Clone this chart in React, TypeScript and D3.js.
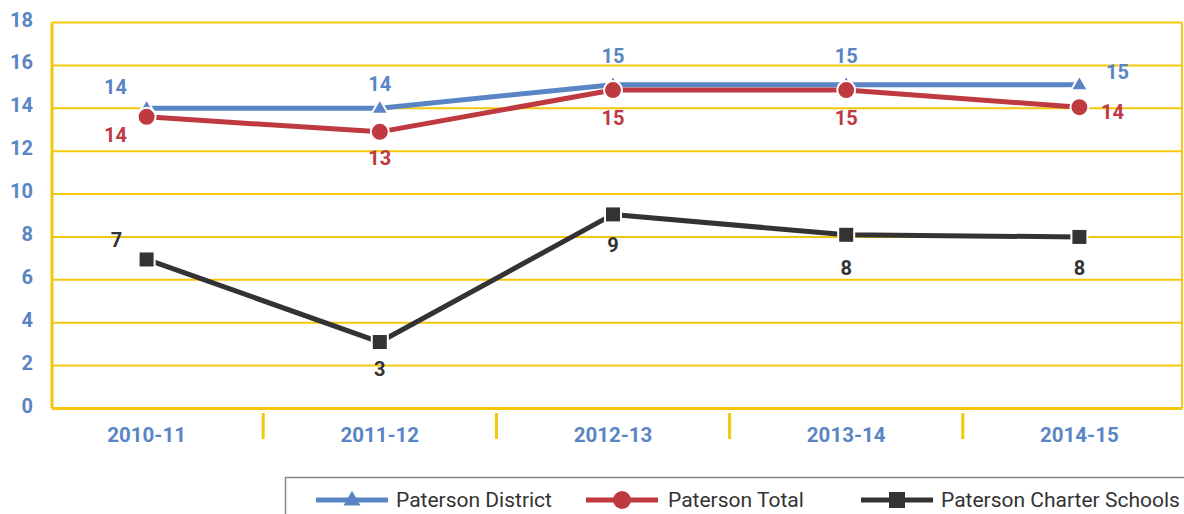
import React from "react";
import * as d3 from "d3";

const categories = ["2010-11", "2011-12", "2012-13", "2013-14", "2014-15"];
const districtValues = [14.0, 14.0, 15.1, 15.1, 15.1];
const totalValues = [13.6, 12.9, 14.85, 14.85, 14.05];
const charterValues = [6.95, 3.1, 9.05, 8.1, 8.0];
const yTicks = [0, 2, 4, 6, 8, 10, 12, 14, 16, 18];
const seriesNames = ["Paterson District", "Paterson Total", "Paterson Charter Schools"];

// label offsets (dx, dy) relative to point
const districtLabelOffsets = [[-31, -21], [0, -24], [0, -29], [0, -29], [38, -13]];
const totalLabelOffsets = [[-31, 18], [0, 26], [0, 28], [0, 28], [33, 5]];
const charterLabelOffsets = [[-30, -19], [0, 27], [0, 31], [0, 33], [0, 31]];

const W = 1184, H = 514;
const BLUE = "#5a85c4";
const RED = "#be3a40";
const DARK = "#333333";
const GOLD = "#f5c70a";
const FONT = "Roboto, 'DejaVu Sans', sans-serif";

export default function App() {
  const x = d3.scaleBand<string>().domain(categories).range([30, 1196]);
  const cx = (c: string) => (x(c) as number) + x.bandwidth() / 2;
  const y = d3.scaleLinear().domain([0, 18]).range([408.5, 22.5]);
  const left = 52, right = 1182;
  const line = d3.line<number>().x((_, i) => cx(categories[i])).y((v) => y(v));
  const fmt = d3.format(".0f");

  const series = [
    { name: seriesNames[0], values: districtValues, color: BLUE, marker: "tri", offs: districtLabelOffsets },
    { name: seriesNames[1], values: totalValues, color: RED, marker: "circ", offs: totalLabelOffsets },
    { name: seriesNames[2], values: charterValues, color: DARK, marker: "sq", offs: charterLabelOffsets },
  ];

  const marker = (kind: string, px: number, py: number, color: string, key: string, halo = true) => {
    const sw = halo ? 2 : 0;
    if (kind === "tri") {
      const s = 17;
      const h = s * 0.866;
      return (
        <path key={key} d={`M${px},${py - h * 0.62}L${px + s / 2},${py + h * 0.38}L${px - s / 2},${py + h * 0.38}Z`}
          fill={color} stroke="#fff" strokeWidth={sw} />
      );
    }
    if (kind === "circ") {
      return <circle key={key} cx={px} cy={py} r={9} fill={color} stroke="#fff" strokeWidth={sw} />;
    }
    return <rect key={key} x={px - 8} y={py - 8} width={16} height={16} fill={color} stroke="#fff" strokeWidth={sw} />;
  };

  const legendItems = [
    { x0: 316, tx: 396 },
    { x0: 586, tx: 668 },
    { x0: 861, tx: 941 },
  ];

  return (
    <svg width={W} height={H} style={{ position: "absolute", left: 0, top: 0, background: "#fff" }}>
      {/* gridlines */}
      {yTicks.map((t) => (
        <line key={"g" + t} x1={left} x2={right} y1={y(t)} y2={y(t)} stroke={GOLD} strokeWidth={t === 0 ? 3 : 2} />
      ))}
      <line x1={left} x2={left} y1={y(18)} y2={y(0)} stroke={GOLD} strokeWidth={3} />
      <line x1={right} x2={right} y1={y(18)} y2={y(0)} stroke={GOLD} strokeWidth={2} />
      {/* x separators */}
      {categories.slice(1).map((c) => (
        <line key={"s" + c} x1={x(c)} x2={x(c)} y1={413} y2={439} stroke={GOLD} strokeWidth={3} />
      ))}
      {/* y labels */}
      {yTicks.map((t) => (
        <text key={"yl" + t} x={33} y={y(t) - 3} textAnchor="end" dominantBaseline="central"
          fontFamily={FONT} fontWeight="bold" fontSize={20} fill={BLUE}>{t}</text>
      ))}
      {/* x labels */}
      {categories.map((c) => (
        <text key={"xl" + c} x={cx(c)} y={435} textAnchor="middle" dominantBaseline="central"
          fontFamily={FONT} fontWeight="bold" fontSize={20.5} fill={BLUE}>{c}</text>
      ))}
      {/* series */}
      {series.map((s) => (
        <g key={s.name}>
          <path d={line(s.values) || ""} fill="none" stroke={s.color} strokeWidth={5} strokeLinejoin="round" />
          {s.values.map((v, i) => marker(s.marker, cx(categories[i]), y(v), s.color, s.name + i))}
          {s.values.map((v, i) => (
            <text key={s.name + "l" + i} x={cx(categories[i]) + s.offs[i][0]} y={y(v) + s.offs[i][1]}
              textAnchor="middle" dominantBaseline="central" fontFamily={FONT} fontWeight="bold"
              fontSize={20} fill={s.color}>{fmt(v)}</text>
          ))}
        </g>
      ))}
      {/* legend */}
      <rect x={285.5} y={477.5} width={1000} height={60} fill="none" stroke="#888" strokeWidth={1.5} />
      {series.map((s, i) => {
        const li = legendItems[i];
        return (
          <g key={"lg" + i}>
            <line x1={li.x0} x2={li.x0 + 72} y1={500} y2={500} stroke={s.color} strokeWidth={5} />
            {marker(s.marker, li.x0 + 36, 500, s.color, "lm" + i, false)}
            <text x={li.tx} y={500} dominantBaseline="central" fontFamily={FONT} fontSize={21} fill="#333">{s.name}</text>
          </g>
        );
      })}
    </svg>
  );
}
